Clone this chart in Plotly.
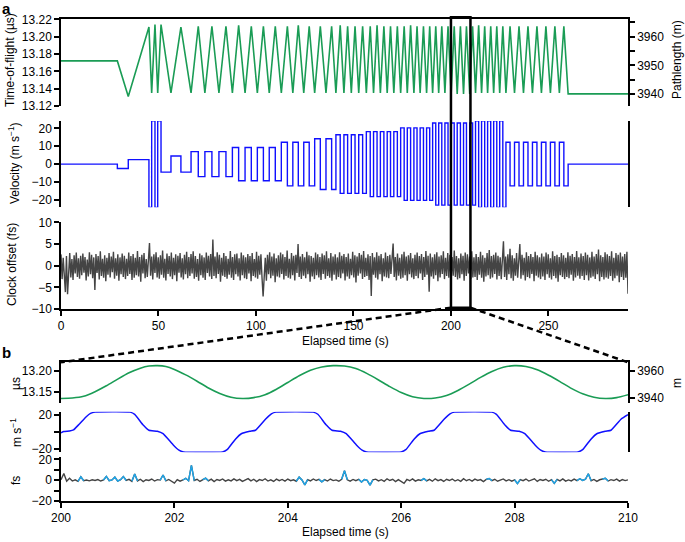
import numpy as np
import plotly.graph_objects as go

# ---- panel a : turning points of the time-of-flight zigzag (s, us) ----
tof_a_t = [
    0, 28.9, 34.5, 45.1, 46.5, 48.2, 49.6, 51.3, 56.4, 61.5, 66.7, 70.4, 73.8, 77.4, 81.0, 84.6, 87.9,
    91.1, 94.4, 97.6, 100.7, 103.8, 106.8, 109.9, 113.0, 116.1, 118.9, 121.7, 124.5, 127.3, 130.1,
    133.0, 135.9, 138.8, 141.0, 143.2, 145.1, 147.0, 148.9, 150.8, 152.7, 154.7, 156.6, 158.6, 160.3,
    162.1, 163.8, 165.6, 167.3, 169.0, 170.7, 172.5, 174.2, 176.0, 177.6, 179.3, 181.0, 182.6, 184.2,
    185.9, 187.5, 189.1, 190.6, 192.2, 193.7, 195.3, 196.9, 198.5, 200.1, 201.66, 203.2, 204.85, 206.45,
    207.95, 209.6, 211.1, 212.6, 214.2, 215.7, 217.3, 218.8, 220.4, 221.9, 223.5, 225.0, 226.6, 228.2,
    230.3, 232.6, 234.9, 237.2, 239.5, 241.8, 244.1, 246.4, 248.7, 251.0, 253.3, 255.6, 257.9, 260.1, 290.8,
]
tof_a_us = [
    13.172, 13.172, 13.131, 13.211, 13.135, 13.214, 13.135, 13.214, 13.135, 13.211, 13.135, 13.212,
    13.135, 13.212, 13.135, 13.212, 13.135, 13.213, 13.135, 13.212, 13.135, 13.212, 13.135, 13.212,
    13.135, 13.212, 13.135, 13.213, 13.135, 13.212, 13.135, 13.212, 13.135, 13.212, 13.135, 13.213,
    13.135, 13.212, 13.135, 13.212, 13.135, 13.212, 13.135, 13.212, 13.135, 13.213, 13.135, 13.212,
    13.135, 13.212, 13.135, 13.212, 13.135, 13.212, 13.135, 13.213, 13.135, 13.212, 13.135, 13.212,
    13.135, 13.212, 13.135, 13.212, 13.135, 13.212, 13.135, 13.212, 13.134, 13.212, 13.134, 13.212,
    13.134, 13.212, 13.134, 13.212, 13.135, 13.213, 13.135, 13.212, 13.135, 13.212, 13.135, 13.212,
    13.135, 13.212, 13.135, 13.212, 13.135, 13.212, 13.135, 13.212, 13.135, 13.212, 13.135, 13.212,
    13.135, 13.212, 13.135, 13.212, 13.134, 13.134,
]
# velocity level held from each turning point to the next (m/s)
vel_a_ms = [
    0, -2.5, 2.5, -24.3, 24.3, -24.3, 24.3, -4.5, 4.5, -4.5, 7, -7, 7, -7, 7, -7,
    9.3, -9.3, 9.3, -9.3, 9.3, -9.3, 9.3, -9.3, 12.2, -12.2, 12.2, -12.2, 12.2, -12.2,
    14.2, -14.2, 14.2, -14.2, 16.4, -16.4, 16.4, -16.4, 16.4, -16.4, 16.4, -16.4,
    18.2, -18.2, 18.2, -18.2, 18.2, -18.2, 18.2, -18.2, 18.2, -18.2,
    20.3, -20.3, 20.3, -20.3, 20.3, -20.3, 20.3, -20.3, 20.3, -20.3,
    23, -23, 23, -23, 23, -23, 23, -23, 23, -23, 23, -23, 23, -23,
    24.3, -24.3, 24.3, -24.3, 24.3, -24.3, 24.3, -24.3, 24.3, -24.3,
    12.2, -12.2, 12.2, -12.2, 12.2, -12.2, 12.2, -12.2, 12.2, -12.2, 12.2, -12.2, 12.2, -12.2,
    0, 0,
]
# clock offset samples, evenly spaced over 0-290.8 s (fs)
clock_a_fs = [
    2.6, -3.1, 1.8, -2.4, -6.1, 2.2, -6.6, -1.9, 2.9, -2.7, 1.5, -3.3, 2.4, -1.8, 3.0, -2.6, 1.7, -3.0, 2.3, -2.2,
    2.8, -1.6, 2.0, -3.4, 1.4, -2.5, 3.1, -2.0, 2.5, -2.9, 1.9, -5.6, 2.7, -1.7, 2.2, -3.2, 3.3, -2.4, 1.6, -2.8,
    2.4, -3.6, 1.8, -2.1, 2.9, -2.7, 2.1, -1.5, 3.2, -3.0, 1.7, -2.3, 2.6, -3.5, 1.9, -2.0, 2.8, -2.6, 2.3, -3.1,
    1.6, -2.4, 3.0, -1.9, 2.2, -3.3, 2.7, -2.8, 1.8, -2.2, 3.4, -2.5, 2.0, -3.7, 2.5, -1.8, 2.9, -2.9, 1.5, -2.6,
    2.7, 5.2, -2.3, 2.1, -3.2, 2.6, -1.7, 3.1, -2.7, 1.9, -3.0, 2.4, -2.1, 3.5, -2.8, 1.6, -3.4, 2.8, -1.9, 2.2,
    -2.5, 3.0, -3.1, 1.8, -2.2, 2.6, -3.6, 2.3, -1.6, 2.9, -2.7, 1.7, -3.2, 2.5, -2.0, 3.2, -2.9, 2.0, -2.4, 2.7,
    -1.8, 3.3, -3.0, 2.2, -2.6, 1.5, -3.5, 2.8, -2.2, 2.4, -2.8, 1.9, -3.3, 3.0, -1.7, 2.3, -2.5, 2.7, -3.1, 6.0,
    -2.4, 2.1, -2.9, 3.1, -1.9, 2.5, -3.7, 1.8, -2.3, 2.9, -2.6, 2.2, -3.0, 1.6, -2.1, 3.4, -2.8, 2.0, -3.3, 2.6,
    -2.0, 2.8, -2.5, 1.7, -3.4, 3.0, -2.2, 2.4, -2.9, 1.9, -3.1, 2.7, -1.8, 2.2, -3.6, 2.9, -2.4, 1.5, -2.7, 3.2,
    -3.0, 2.3, -2.1, 2.6, -2.8, -7.1, -2.6, 1.8, -3.5, 2.5, -2.0, 3.1, -2.9, 2.1, -2.3, 2.8, -3.8, 1.7, -2.5, 2.4,
    -2.7, 3.0, -1.9, 2.6, -3.2, 2.0, -2.4, 3.5, -2.8, 1.6, -3.0, 2.9, -2.2, 2.3, -3.4, 2.5, -1.7, 5.0, -2.6, 2.1,
    -3.1, 2.7, -2.3, 1.9, -2.9, 3.2, -2.0, 2.4, -3.7, 2.2, -2.5, 1.8, -3.1, 3.0, -2.2, 2.6, -2.7, 2.0, -3.3, 2.8,
    -1.9, 2.4, -3.0, 3.3, -2.4, 1.7, -2.8, 2.9, -3.5, 2.1, -2.1, 2.6, -3.2, 1.9, -2.6, 3.1, -2.9, 2.3, -1.8, 2.7,
    -3.4, 2.0, -2.5, 2.8, -3.0, 1.6, -2.2, 3.2, -2.7, 2.4, -3.9, 2.1, -2.3, 2.9, -1.8, 2.5, -3.1, 3.4, -2.6, 1.8,
    -2.4, 2.6, -3.3, 2.2, -7.0, 2.9, -2.1, 1.9, -2.8, 3.1, -3.2, 2.3, -2.0, 2.7, -3.6, 1.7, -2.5, 3.0, -2.7, 2.2,
    -2.9, 2.5, -1.9, 3.3, 5.1, -2.6, 2.0, -3.4, 2.8, -2.3, 1.8, -3.0, 2.6, -2.8, 3.2, -2.2, 2.1, -3.5, 2.4, -2.0,
    2.9, -2.7, 1.7, -3.1, 2.5, -2.4, 3.0, -2.9, 2.2, -1.8, 2.7, -3.3, 2.0, -2.6, 3.4, -2.1, 2.3, -6.0, 2.8, -2.5,
    1.9, -3.0, 2.6, -2.2, 3.1, -3.6, 2.1, -2.7, 2.4, -1.9, 3.3, -3.1, 1.8, -2.4, 2.9, -2.8, 2.5, -3.4, 2.0, -2.3,
    3.5, -2.6, 2.2, -3.2, 1.7, -2.9, 2.8, -2.0, 2.3, -3.5, 3.0, -2.4, 2.6, -1.8, 2.1, -3.1, 3.3, -2.7, 1.9, -2.6,
    2.7, -3.3, 2.0, -2.1, 3.2, -2.8, 2.4, -3.7, 1.8, -2.5, 2.9, -2.2, 3.6, -3.0, 2.2, -2.7, 2.5, -1.9, 3.0, -3.2,
    2.3, -2.4, 1.9, -3.1, 2.8, 5.6, -2.6, 2.1, -3.3, 2.6, -2.0, 3.9, -2.9, 2.4, -3.5, 1.7, -2.3, 2.9, -2.8, 2.2,
    5.0, -3.0, 2.5, -2.2, 1.8, -3.4, 3.1, -2.6, 2.2, -2.9, 2.7, -1.9, 2.0, -3.6, 3.2, -2.3, 2.4, -2.7, 1.9, -3.1,
    2.8, -2.5, 2.1, -3.3, 3.0, -2.0, 2.6, -2.8, 1.7, -3.2, 3.3, -2.4, 2.2, -2.9, 2.5, -3.7, 2.0, -2.2, 2.9, -2.6,
    2.4, -3.1, 1.8, -2.6, 3.1, -2.9, 2.3, -2.1, 2.7, -3.5, 2.0, -2.7, 3.4, -2.3, 1.9, -3.0, 2.8, -2.4, 2.2, -3.3,
    3.0, -2.2, 2.5, -3.4, 1.9, -2.8, 3.2, -2.5, 2.1, -3.1, 2.7, -2.0, 3.7, -3.6, 2.4, -2.6, 2.0, -3.2, 3.1, -2.7,
    2.6, -3.0, 2.2, -2.4, 3.3, -3.5, 1.8, -2.9, 2.9, -2.3, 2.5, -3.8, 3.0, -2.6, 2.1, -3.3, 2.7, -2.8, 3.2, -6.5,
]

# ---- panel b : zoom on 200-210 s ----
tof_b_t = [
    200.0, 200.2, 200.4, 200.6, 200.8, 201.0, 201.2, 201.4, 201.55, 201.7, 201.85, 202.0, 202.2, 202.4,
    202.6, 202.8, 203.0, 203.2, 203.4, 203.6, 203.8, 204.0, 204.2, 204.4, 204.6, 204.8, 205.0, 205.2,
    205.4, 205.6, 205.8, 206.0, 206.2, 206.4, 206.6, 206.8, 207.0, 207.2, 207.4, 207.6, 207.8, 208.0,
    208.2, 208.4, 208.6, 208.8, 209.0, 209.2, 209.4, 209.6, 209.8, 210.0,
]
tof_b_us = [
    13.134, 13.135, 13.139, 13.150, 13.164, 13.180, 13.195, 13.206, 13.211, 13.212, 13.210, 13.203, 13.190, 13.175,
    13.159, 13.146, 13.137, 13.134, 13.136, 13.143, 13.156, 13.172, 13.188, 13.201, 13.209, 13.212, 13.211, 13.205,
    13.193, 13.178, 13.162, 13.148, 13.138, 13.134, 13.135, 13.141, 13.153, 13.168, 13.184, 13.198, 13.208, 13.212,
    13.210, 13.202, 13.189, 13.174, 13.158, 13.145, 13.137, 13.134, 13.136, 13.143,
]
vel_b_t = [
    200.0, 200.05, 200.15, 200.22, 200.32, 200.45, 200.52, 200.6,
    201.22, 201.3, 201.45, 201.55, 201.7, 201.8, 201.98, 202.08, 202.16,
    202.85, 202.93, 203.08, 203.18, 203.33, 203.43, 203.61, 203.71, 203.79,
    204.45, 204.53, 204.68, 204.78, 204.93, 205.03, 205.21, 205.31, 205.39,
    206.0, 206.08, 206.23, 206.33, 206.48, 206.58, 206.76, 206.86, 206.94,
    207.6, 207.68, 207.83, 207.93, 208.08, 208.18, 208.36, 208.46, 208.54,
    209.12, 209.2, 209.35, 209.45, 209.6, 209.7, 209.88, 210.0,
]
vel_b_ms = [
    -1, 0.5, 1.2, 2.5, 9, 18, 21.5, 23,
    23, 20.5, 8, 2, 0.8, -2, -15, -21, -23,
    -23, -20.5, -8, -2, 0.8, 2, 15, 21, 23,
    23, 20.5, 8, 2, 0.8, -2, -15, -21, -23,
    -23, -20.5, -8, -2, 0.8, 2, 15, 21, 23,
    23, 20.5, 8, 2, 0.8, -2, -15, -21, -23,
    -23, -20.5, -8, -2, 0.8, 2, 15, 20,
]
# clock offset, one sample every 0.05 s from 200 to 210 s (fs)
clock_b_fs = [
    0.5, 6.5, -1.0, 1.8, -0.8, 0.3, -1.2, 3.2, -0.5, 0.2, -0.6, 0.4, -0.3, 0.6, -0.8, 0.2, 3.6, -0.4, 0.3, 3.0,
    -0.9, 0.5, 3.5, -0.3, 0.8, -1.1, 6.0, -0.7, 0.9, -1.3, 0.4, -0.2, 1.1, -0.8, 0.5, 0.1, 5.0, -0.6, 0.7, -1.0,
    -2.8, 0.6, -0.9, 0.2, 1.8, -0.5, 14.2, -0.3, 0.9, -1.2, 0.5, 2.0, -0.6, 1.0, -1.4, 0.7, -0.2, 1.2, -0.9, 0.4,
    -0.7, 1.3, -0.4, 0.8, -1.1, 0.2, 1.5, -0.6, 0.9, -1.3, 0.6, -0.3, 1.4, -0.8, 0.3, -1.2, 1.0, -0.4, 0.7, -0.9,
    1.1, -0.5, 0.4, -1.0, 2.9, 0.2, -4.5, 0.6, -0.7, 1.2, -0.3, 0.8, -1.6, 0.5, -0.8, 1.1, -0.4, 0.3, -1.0, 0.9,
    9.0, 0.4, -0.9, 0.7, -0.5, 0.8, -1.8, 0.6, -0.2, -4.8, 0.3, 1.0, -0.7, 0.5, -1.1, 1.3, -0.3, 0.9, -1.4, 0.6,
    -0.8, -3.0, 0.7, -0.5, 1.2, -0.9, 0.4, -0.2, 1.5, -0.6, 0.8, -1.0, 1.3, -0.4, 0.6, -1.2, 0.9, -0.3, 1.1, -0.8,
    0.5, -1.1, 1.4, -0.5, 0.7, -0.9, 1.0, -0.2, 0.6, -1.3, 0.8, 1.6, -0.4, 0.9, -1.0, 0.3, 1.2, -0.7, 0.5, -0.9,
    0.4, -3.2, 0.6, -0.5, 1.1, -0.8, 0.2, 1.3, -1.2, 0.7, -0.3, 0.9, -1.0, 0.5, -3.1, 0.8, -0.6, 1.2, -0.9, 0.3,
    -0.7, 1.0, -0.4, 1.4, -0.2, 0.9, 6.2, -0.5, 0.7, -1.1, 0.4, 1.2, 1.8, -0.8, 0.5, -0.3, 1.0, -0.9, 0.6, -0.4,
    0.3,
]
# stretches drawn in light blue (s)
blue_windows = [
    (200.30, 200.40), (200.75, 200.85), (200.90, 201.00), (201.05, 201.15), (201.25, 201.35),
    (201.75, 201.85), (202.15, 202.35), (202.50, 202.60), (204.15, 204.35), (204.55, 204.65),
    (204.95, 205.05), (205.25, 205.50), (206.35, 206.45), (207.50, 207.60), (208.00, 208.10),
    (208.65, 208.75), (209.10, 209.35), (209.55, 209.65),
]

GREEN = '#1a9c55'
BLUE = '#1010ff'
GREY = '#444444'
LIGHT_BLUE = '#1ea6ea'
FONT = 'Liberation Sans, Arial, sans-serif'
W, H = 685, 542


def px_x(p):
    return p / W


def px_y(p):
    return 1 - p / H


XDOM = [px_x(61), px_x(628)]

clock_a_t = np.linspace(0, 290.8, len(clock_a_fs))
clock_b_t = np.linspace(200, 210, len(clock_b_fs))
blue_fs = [v if any(a - 1e-9 <= t <= b + 1e-9 for a, b in blue_windows) else None
           for t, v in zip(clock_b_t, clock_b_fs)]

fig = go.Figure()
fig.add_trace(go.Scatter(x=tof_a_t, y=tof_a_us, mode='lines', line=dict(color=GREEN, width=1.6),
                         xaxis='x', yaxis='y'))
# empty trace so the pathlength axis gets drawn
fig.add_trace(go.Scatter(x=[], y=[], mode='lines', xaxis='x', yaxis='y2', hoverinfo='skip'))
fig.add_trace(go.Scatter(x=tof_a_t, y=vel_a_ms, mode='lines', line=dict(color=BLUE, width=1.4, shape='hv'),
                         xaxis='x2', yaxis='y3'))
fig.add_trace(go.Scatter(x=clock_a_t, y=clock_a_fs, mode='lines', line=dict(color=GREY, width=1.4),
                         xaxis='x3', yaxis='y4'))
fig.add_trace(go.Scatter(x=tof_b_t, y=tof_b_us, mode='lines',
                         line=dict(color=GREEN, width=1.6, shape='spline', smoothing=0.6),
                         xaxis='x4', yaxis='y5'))
fig.add_trace(go.Scatter(x=[], y=[], mode='lines', xaxis='x4', yaxis='y6', hoverinfo='skip'))
fig.add_trace(go.Scatter(x=vel_b_t, y=vel_b_ms, mode='lines',
                         line=dict(color=BLUE, width=1.5, shape='spline', smoothing=0.4),
                         xaxis='x5', yaxis='y7'))
fig.add_trace(go.Scatter(x=clock_b_t, y=clock_b_fs, mode='lines', line=dict(color=GREY, width=1.4),
                         xaxis='x6', yaxis='y8'))
fig.add_trace(go.Scatter(x=clock_b_t, y=blue_fs, mode='lines', line=dict(color=LIGHT_BLUE, width=1.4),
                         connectgaps=False, xaxis='x6', yaxis='y8'))

ax_common = dict(showline=True, linecolor='black', linewidth=1.5, ticks='outside', ticklen=5,
                 tickwidth=1.5, tickcolor='black', showgrid=False, zeroline=False, automargin=False,
                 tickfont=dict(size=12, color='black', family=FONT))
hidden_x = dict(visible=False, showgrid=False, zeroline=False, automargin=False)
top_x = dict(side='top', showline=True, linecolor='black', linewidth=1.5, showticklabels=False,
             ticks='', showgrid=False, zeroline=False, automargin=False)
minor_ticks = dict(ticks='outside', ticklen=5, tickwidth=1.5, tickcolor='black')

dom = dict(
    tof_a=[px_y(106), px_y(19.3)],
    vel_a=[px_y(207.3), px_y(120.9)],
    clk_a=[px_y(309), px_y(222.3)],
    tof_b=[px_y(403.3), px_y(362.3)],
    vel_b=[px_y(452.3), px_y(411.7)],
    clk_b=[px_y(501), px_y(457)],
)

fig.update_layout(
    width=W, height=H, margin=dict(l=0, r=0, t=0, b=0, autoexpand=False),
    plot_bgcolor='white', paper_bgcolor='white', showlegend=False,
    font=dict(family=FONT, size=12, color='black'),
    # panel a
    xaxis=dict(top_x, domain=XDOM, range=[0, 290.8], anchor='y'),
    yaxis=dict(ax_common, domain=dom['tof_a'], range=[13.12, 13.22], anchor='x', dtick=0.02,
               tickformat='.2f'),
    yaxis2=dict(ax_common, range=[3935.8, 3966.1], overlaying='y', anchor='x', side='right', dtick=10,
                minor=dict(minor_ticks, dtick=5)),
    xaxis2=dict(hidden_x, domain=XDOM, range=[0, 290.8], anchor='y3'),
    yaxis3=dict(ax_common, domain=dom['vel_a'], range=[-24.2, 24.2], anchor='x2', dtick=10, mirror=True),
    xaxis3=dict(ax_common, domain=XDOM, range=[0, 290.8], anchor='y4', dtick=50),
    yaxis4=dict(ax_common, domain=dom['clk_a'], range=[-10, 10], anchor='x3', dtick=5),
    # panel b
    xaxis4=dict(top_x, domain=XDOM, range=[200, 210], anchor='y5'),
    yaxis5=dict(ax_common, domain=dom['tof_b'], range=[13.1224, 13.22], anchor='x4',
                tickvals=[13.15, 13.20], tickformat='.2f'),
    yaxis6=dict(ax_common, range=[3936.2, 3966.1], overlaying='y5', anchor='x4', side='right',
                tickvals=[3940, 3960]),
    xaxis5=dict(hidden_x, domain=XDOM, range=[200, 210], anchor='y7'),
    yaxis7=dict(ax_common, domain=dom['vel_b'], range=[-23.5, 23.5], anchor='x5', mirror=True,
                tickvals=[-20, 0, 20], ticktext=['\u221220', ' ', '20']),
    xaxis6=dict(ax_common, domain=XDOM, range=[200, 210], anchor='y8', dtick=2),
    yaxis8=dict(ax_common, domain=dom['clk_b'], range=[-20, 22.3], anchor='x6',
                tickvals=[-20, 0, 20], minor=dict(minor_ticks, dtick=10)),
)


def label(text, x, y, angle=0, size=12, bold=False):
    fig.add_annotation(text=f'<b>{text}</b>' if bold else text, x=px_x(x), y=px_y(y),
                       xref='paper', yref='paper', showarrow=False, textangle=angle,
                       xanchor='center', yanchor='middle',
                       font=dict(size=size, color='black', family=FONT))


label('a', 6, 8, size=15, bold=True)
label('b', 6, 352, size=15, bold=True)
label('Time-of-flight (\u00b5s)', 10, 60, angle=-90)
label('Pathlength (m)', 677, 60, angle=-90)
label('Velocity (m s<sup>\u22121</sup>)', 14, 163, angle=-90)
label('Clock offset (fs)', 12, 265, angle=-90)
label('Elapsed time (s)', 345, 341)
label('\u00b5s', 16, 383, angle=-90)
label('m', 677, 383, angle=-90)
label('m s<sup>\u22121</sup>', 16, 432, angle=-90)
label('fs', 16, 480, angle=-90)
label('Elapsed time (s)', 345, 532)

# zoom box on panel a and the dashed connectors to panel b
box_bottom, box_top = px_y(307.7), px_y(17.3)
fig.add_shape(type='rect', xref='x3', yref='paper', x0=200, x1=210, y0=box_bottom, y1=box_top,
              line=dict(color='black', width=2.5))
span = XDOM[1] - XDOM[0]
xa0 = XDOM[0] + 200 / 290.8 * span
xa1 = XDOM[0] + 210 / 290.8 * span
b_top = dom['tof_b'][1]
for xs, xe in [(xa0, XDOM[0]), (xa1, XDOM[1])]:
    fig.add_shape(type='line', xref='paper', yref='paper', x0=xs, y0=box_bottom, x1=xe, y1=b_top,
                  line=dict(color='black', width=2.5, dash='6px,4px'))

# drop the page's default body margin so the figure sits at the window's corner
fig.write_html("out.html", config={'displayModeBar': False},
               post_script="document.body.style.margin='0';")
